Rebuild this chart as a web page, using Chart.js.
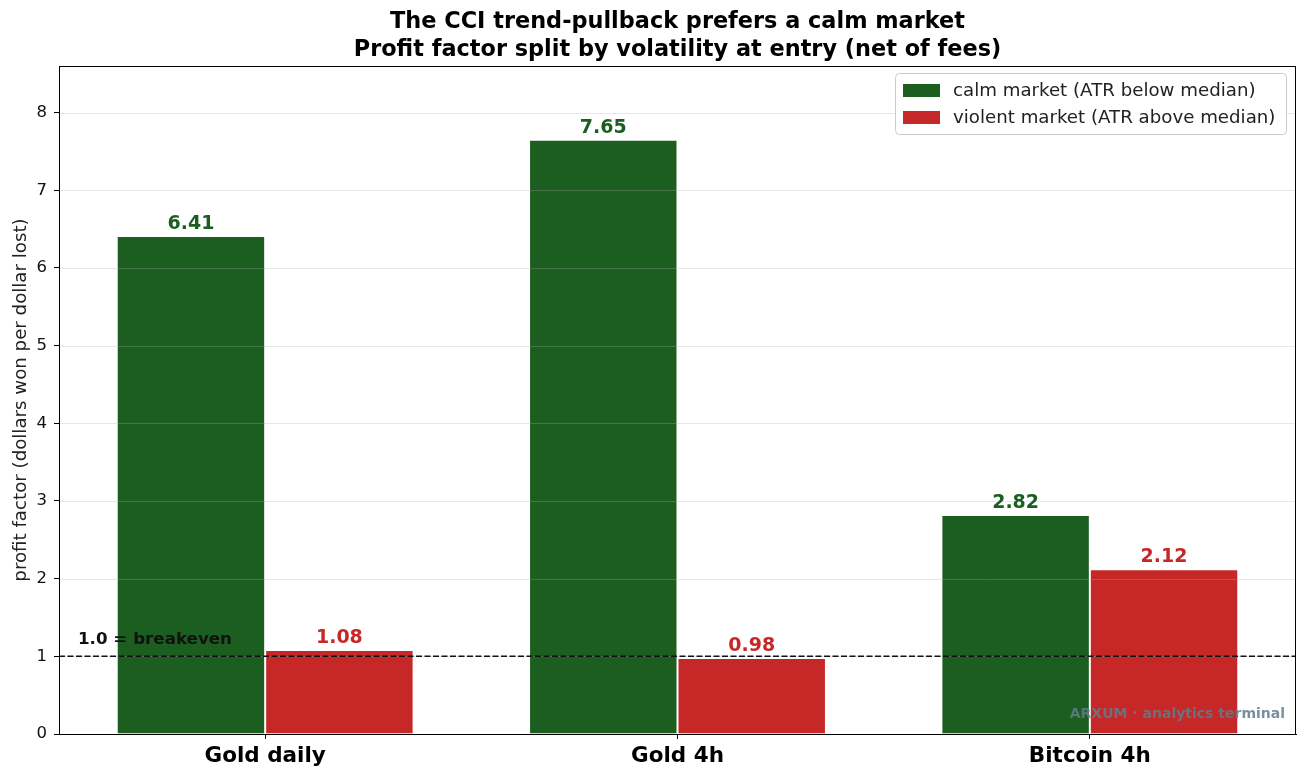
<!DOCTYPE html>
<html>
<head>
<meta charset="utf-8">
<script src="https://cdn.jsdelivr.net/npm/chart.js@4"></script>
<style>
html,body{margin:0;padding:0;background:#fff;}
#wrap{width:1307px;height:778px;position:relative;}
</style>
</head>
<body>
<div id="wrap"><canvas id="c" width="1307" height="778"></canvas></div>
<script>
const categories = ["Gold daily", "Gold 4h", "Bitcoin 4h"];
const calmValues = [6.41, 7.65, 2.82];
const violentValues = [1.08, 0.98, 2.12];
const seriesNames = ["calm market (ATR below median)", "violent market (ATR above median)"];
const yTicks = [0, 1, 2, 3, 4, 5, 6, 7, 8];
const breakeven = 1.0;
const titleLines = ["The CCI trend-pullback prefers a calm market", "Profit factor split by volatility at entry (net of fees)"];
const yTitle = "profit factor (dollars won per dollar lost)";
const watermark = "ARXUM \u00b7 analytics terminal";

const GREEN = "#1b5e20", RED = "#c62828";
const FONT = "'DejaVu Sans', sans-serif";

const overlay = {
  id: 'overlay',
  afterDatasetsDraw(chart) {
    const ctx = chart.ctx, ca = chart.chartArea;
    const y = chart.scales.y;
    ctx.save();
    // grid over bars
    ctx.strokeStyle = 'rgba(176,176,176,0.3)';
    ctx.lineWidth = 1;
    yTicks.forEach(t => {
      if (t === 0) return;
      const py = Math.round(y.getPixelForValue(t)) + 0.5;
      ctx.beginPath(); ctx.moveTo(ca.left, py); ctx.lineTo(ca.right, py); ctx.stroke();
    });
    // breakeven
    const by = y.getPixelForValue(breakeven);
    ctx.strokeStyle = '#111';
    ctx.lineWidth = 1.5;
    ctx.setLineDash([6, 2.5]);
    ctx.beginPath(); ctx.moveTo(ca.left, by); ctx.lineTo(ca.right, by); ctx.stroke();
    ctx.setLineDash([]);
    ctx.fillStyle = '#111';
    ctx.font = "bold 16.7px " + FONT;
    ctx.textAlign = 'left'; ctx.textBaseline = 'alphabetic';
    ctx.fillText("1.0 = breakeven", ca.left + 19, by - 12);
    // value labels
    ctx.font = "bold 19px " + FONT;
    ctx.textAlign = 'center'; ctx.textBaseline = 'alphabetic';
    chart.data.datasets.forEach((ds, di) => {
      const meta = chart.getDatasetMeta(di);
      meta.data.forEach((bar, i) => {
        ctx.fillStyle = di === 0 ? GREEN : RED;
        ctx.fillText(ds.data[i].toFixed(2), bar.x, bar.y - 7);
      });
    });
    // frame
    ctx.strokeStyle = '#000'; ctx.lineWidth = 1;
    ctx.strokeRect(ca.left + 0.5, ca.top + 0.5, ca.right - ca.left - 1, ca.bottom - ca.top);
    // watermark
    ctx.font = "bold 14px " + FONT;
    ctx.textAlign = 'right';
    ctx.fillStyle = 'rgba(96,125,139,0.85)';
    ctx.fillText(watermark, ca.right - 11, ca.bottom - 16);
    // legend
    const lx = 895, ly = 73, lw = 391, lh = 61;
    ctx.fillStyle = 'rgba(255,255,255,0.85)';
    ctx.strokeStyle = '#cccccc';
    ctx.lineWidth = 1;
    ctx.beginPath();
    if (ctx.roundRect) ctx.roundRect(lx + 0.5, ly + 0.5, lw, lh, 4); else ctx.rect(lx + 0.5, ly + 0.5, lw, lh);
    ctx.fill(); ctx.stroke();
    ctx.font = "18.2px " + FONT;
    ctx.textAlign = 'left'; ctx.textBaseline = 'middle';
    [GREEN, RED].forEach((c, i) => {
      const cy = ly + 17 + i * 27;
      ctx.fillStyle = c;
      ctx.fillRect(lx + 8, cy - 6, 37, 13);
      ctx.fillStyle = '#222';
      ctx.fillText(seriesNames[i], lx + 58, cy + 1);
    });
    ctx.restore();
  },
  afterDraw(chart) {
    const ctx = chart.ctx, ca = chart.chartArea;
    ctx.save();
    ctx.fillStyle = '#000';
    ctx.font = "bold 22.4px " + FONT;
    ctx.textAlign = 'center'; ctx.textBaseline = 'middle';
    const cx = (ca.left + ca.right) / 2;
    ctx.fillText(titleLines[0], cx, 22);
    ctx.fillText(titleLines[1], cx, 50);
    ctx.font = "18.2px " + FONT;
    ctx.translate(21, (ca.top + ca.bottom) / 2);
    ctx.rotate(-Math.PI / 2);
    ctx.fillStyle = '#222';
    ctx.fillText(yTitle, 0, 0);
    ctx.restore();
  }
};

new Chart(document.getElementById('c'), {
  type: 'bar',
  data: {
    labels: categories,
    datasets: [
      { label: seriesNames[0], data: calmValues, backgroundColor: GREEN, borderColor: '#ffffff', borderWidth: 1, categoryPercentage: 0.72, barPercentage: 1.0 },
      { label: seriesNames[1], data: violentValues, backgroundColor: RED, borderColor: '#ffffff', borderWidth: 1, categoryPercentage: 0.72, barPercentage: 1.0 }
    ]
  },
  options: {
    responsive: false,
    animation: false,
    events: [],
    layout: { padding: { top: 66, right: 11, left: 0, bottom: 0 } },
    plugins: { legend: { display: false }, title: { display: false }, tooltip: { enabled: false } },
    scales: {
      x: {
        offset: true,
        grid: { display: true, drawOnChartArea: false, offset: false, tickLength: 5, color: '#000', tickWidth: 1 },
        border: { display: true, color: '#000' },
        ticks: { color: '#000', font: { family: FONT, size: 21.5, weight: 'bold' }, padding: 5 },
        afterFit(s) { s.height = 44; }
      },
      y: {
        min: 0, max: 8.6,
        grid: { display: true, drawOnChartArea: false, tickLength: 5, color: '#000', tickWidth: 1 },
        border: { display: true, color: '#000' },
        ticks: { stepSize: 1, color: '#111', font: { family: FONT, size: 16.5 }, padding: 7 },
        afterBuildTicks(s) { s.ticks = yTicks.map(v => ({ value: v })); },
        afterFit(s) { s.width = 59; }
      }
    }
  },
  plugins: [overlay]
});
</script>
</body>
</html>
